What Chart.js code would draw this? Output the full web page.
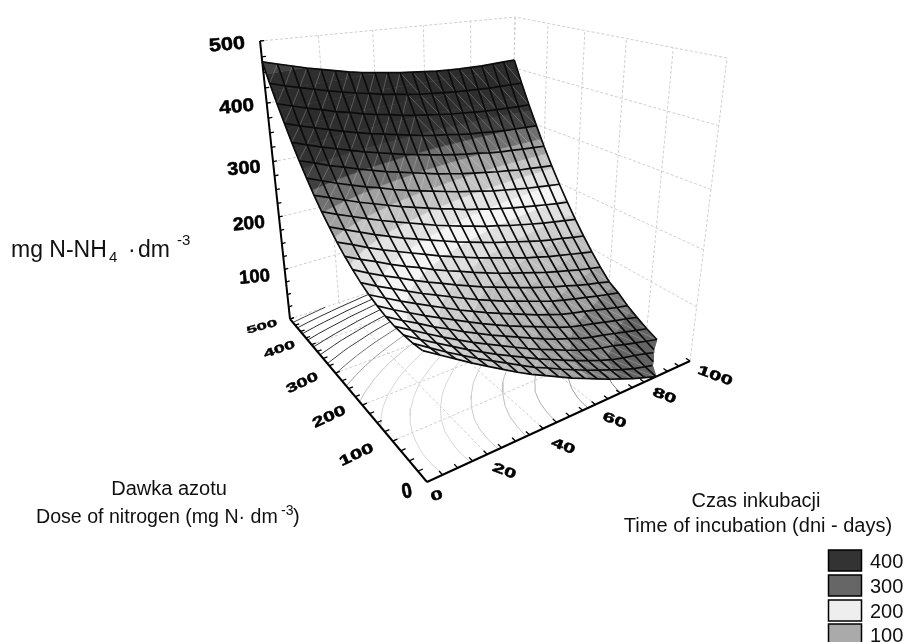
<!DOCTYPE html>
<html><head><meta charset="utf-8"><title>Surface</title>
<script src="https://cdn.jsdelivr.net/npm/chart.js@4"></script>
<style>html,body{margin:0;padding:0;background:#fff}canvas{display:block}</style></head>
<body><canvas id="c" width="907" height="642"></canvas>
<script>
const doses=[0,25,50,75,100,125,150,175,200,225,250,275,300,325,350,375,400,425,450,475,500];
const times=[0,5,10,15,20,25,30,35,40,45,50,55,60,65,70,75,80,85,90,95,100];
const zValues=[
[190,176,162,148,135,122,109,97,86,75,64,54,44,34,25,16,8,0,-7,-14,-21],
[188,174,160,147,134,122,110,98,86,76,65,55,45,36,27,18,10,4,-2,-9,-15],
[188,174,161,148,135,123,111,100,89,78,68,58,48,39,30,22,16,11,5,-2,-8],
[189,176,163,150,138,126,115,104,93,82,72,63,53,44,36,30,25,18,12,6,0],
[192,179,167,154,143,131,120,109,99,89,79,69,60,52,43,37,32,26,20,14,8],
[197,184,172,160,149,138,127,116,106,96,87,78,69,60,52,46,41,35,29,24,18],
[203,191,179,168,157,146,135,125,115,106,97,88,79,71,63,57,52,46,40,34,29],
[211,199,188,177,166,156,146,136,126,117,108,100,92,84,76,70,64,59,53,48,43],
[221,209,198,188,177,167,158,148,139,130,122,114,106,98,91,84,78,71,65,60,54],
[232,221,211,200,190,181,171,162,154,145,137,129,122,115,108,101,95,89,83,78,73],
[245,235,224,214,205,196,187,178,170,162,154,147,140,133,126,120,114,109,104,99,94],
[260,250,240,230,221,212,204,196,188,180,173,166,159,153,147,141,135,130,126,121,117],
[276,266,257,248,239,231,223,215,207,200,193,187,180,175,169,164,159,154,150,146,142],
[294,285,276,267,259,251,243,236,229,222,216,209,204,198,193,188,184,180,176,172,169],
[314,305,296,288,280,273,265,258,252,246,240,234,229,224,219,215,211,207,204,201,198],
[335,327,318,311,303,296,289,283,277,271,265,260,255,251,247,243,240,236,234,231,229],
[358,350,342,335,328,321,315,309,303,298,293,288,284,280,277,273,270,268,266,264,262],
[383,375,368,361,354,348,342,337,332,327,322,318,315,311,308,306,303,301,300,299,298],
[409,402,395,389,382,377,371,366,362,357,353,350,347,344,342,340,338,337,336,335,335],
[437,430,424,418,412,407,402,398,393,390,386,383,381,379,377,376,375,374,374,374,374],
[467,461,455,449,444,439,434,430,427,424,421,419,417,415,414,413,413,413,414,415,416]
];
const doseTicks=[0,100,200,300,400,500];
const timeTicks=[0,20,40,60,80,100];
const zTicks=[100,200,300,400,500];
const bandLevels=[0,25,50,75,100,125,150,175,200,225,250,275,300,325,350,375,400,425,450,475];
const bandGrays=[100,128,158,178,190,204,222,244,226,196,160,112,64,50,46,44,44,46,66,80];
const legendLabels=['400','300','200','100'];
const legendGrays=[51,102,238,170];

const O=[427,482],T=[690,361],B=[511,245],Af=[290,319];
const F=[414.5,104],Tt=[727,58],Bt=[515,17],At=[260,41];
function hom(p0,p1,p2,p3){
 const dx1=p1[0]-p2[0],dx2=p3[0]-p2[0],sx=p0[0]-p1[0]+p2[0]-p3[0];
 const dy1=p1[1]-p2[1],dy2=p3[1]-p2[1],sy=p0[1]-p1[1]+p2[1]-p3[1];
 const den=dx1*dy2-dx2*dy1,g=(sx*dy2-dx2*sy)/den,h=(dx1*sy-sx*dy1)/den;
 const a=p1[0]-p0[0]+g*p1[0],b=p3[0]-p0[0]+h*p3[0],d=p1[1]-p0[1]+g*p1[1],e=p3[1]-p0[1]+h*p3[1];
 return (u,v)=>{const w=g*u+h*v+1;return [(a*u+b*v+p0[0])/w,(d*u+e*v+p0[1])/w]};
}
const hF=hom(O,T,B,Af),hT=hom(F,Tt,Bt,At);
function project(d,t,z){
 const u=t/100,v=d/500,s=z/500,w=s/(1.15-0.15*s);
 const a=hF(u,v),b=hT(u,v);
 return {x:a[0]+(b[0]-a[0])*w,y:a[1]+(b[1]-a[1])*w};
}
const hex=g=>`rgb(${g},${g},${g})`;
const list=[];
function add(points,o){list.push(Object.assign({data:points,showLine:true,pointRadius:0,pointHitRadius:0,fill:false,clip:false,tension:0,borderWidth:1,borderColor:'#000',spanGaps:false},o));}
function seg(a,b,o){add([project(...a),project(...b)],o);}

const gridStyle={borderColor:'#cfcfcf',borderWidth:1,borderDash:[3,2]};
timeTicks.forEach(t=>{seg([500,t,0],[500,t,500],gridStyle);if(t>0&&t<100)seg([0,t,0],[500,t,0],gridStyle);});
doseTicks.forEach(d=>{seg([d,100,0],[d,100,500],gridStyle);if(d>0&&d<500)seg([d,0,0],[d,100,0],gridStyle);});
seg([500,0,0],[500,100,0],gridStyle);
zTicks.forEach(z=>{seg([500,0,z],[500,100,z],gridStyle);seg([0,100,z],[500,100,z],gridStyle);});

bandLevels.forEach((lv,k)=>{
 const pts=[],nan={x:NaN,y:NaN};
 for(let i=0;i<doses.length-1;i++)for(let j=0;j<times.length-1;j++){
  const c=[[i,j],[i,j+1],[i+1,j+1],[i+1,j]],cross=[];
  for(let e=0;e<4;e++){
   const p=c[e],q=c[(e+1)%4],zp=zValues[p[0]][p[1]],zq=zValues[q[0]][q[1]];
   if((zp<lv)!==(zq<lv)){const f=(lv-zp)/(zq-zp);
    cross.push(project(doses[p[0]]+(doses[q[0]]-doses[p[0]])*f,times[p[1]]+(times[q[1]]-times[p[1]])*f,0));}
  }
  if(cross.length>=2){pts.push(cross[0],cross[1],nan);}
  if(cross.length===4){pts.push(cross[2],cross[3],nan);}
 }
 add(pts,{borderColor:hex(Math.min(bandGrays[k],215)),borderWidth:1});
});

const axisStyle={borderColor:'#000',borderWidth:2};
seg([0,0,0],[500,0,0],axisStyle);seg([0,0,0],[0,100,0],axisStyle);seg([500,0,0],[500,0,500],axisStyle);
const tickStyle={borderColor:'#000',borderWidth:1.3};
for(const d of doses){if(d>0)seg([d,0,0],[d,1.6,0],tickStyle);}
for(const t of times){if(t>0)seg([0,t,0],[9,t,0],tickStyle);}
for(let z=0;z<=500;z+=25)seg([500,0,z],[500,1.4,z],tickStyle);

function clipZ(poly,lim,above){
 const out=[];
 for(let i=0;i<poly.length;i++){
  const a=poly[i],b=poly[(i+1)%poly.length];
  const ina=above?a[2]>=lim:a[2]<=lim,inb=above?b[2]>=lim:b[2]<=lim;
  if(ina)out.push(a);
  if(ina!==inb){const f=(lim-a[2])/(b[2]-a[2]);out.push([a[0]+(b[0]-a[0])*f,a[1]+(b[1]-a[1])*f,lim]);}
 }
 return out;
}
for(let i=doses.length-2;i>=0;i--)for(let j=0;j<times.length-1;j++){
 const q=[[doses[i],times[j],zValues[i][j]],[doses[i],times[j+1],zValues[i][j+1]],[doses[i+1],times[j+1],zValues[i+1][j+1]],[doses[i+1],times[j],zValues[i+1][j]]];
 bandLevels.forEach((lo,k)=>{
  let p=clipZ(q,lo,true);
  if(k<bandLevels.length-1&&p.length)p=clipZ(p,bandLevels[k+1],false);
  if(p.length<3)return;
  const pts=p.map(v=>project(...v));pts.push(pts[0]);
  const col=hex(bandGrays[k]);
  add(pts,{fill:'shape',backgroundColor:col,borderColor:col,borderWidth:0.6});
 });
}
{const pts=[],nan={x:NaN,y:NaN};
 for(let i=0;i<doses.length-1;i++)for(let j=0;j<times.length-1;j++){
  const l=j<10;
  const a=l?[doses[i],times[j],zValues[i][j]]:[doses[i],times[j+1],zValues[i][j+1]];
  const b=l?[doses[i+1],times[j+1],zValues[i+1][j+1]]:[doses[i+1],times[j],zValues[i+1][j]];
  if(a[2]<0||b[2]<0)continue;
  pts.push(project(...a),project(...b),nan);
 }
 add(pts,{borderColor:'rgba(255,255,255,0.28)',borderWidth:0.8});
}
const mesh={borderColor:'#0c0c0c',borderWidth:1.7};
function polyline(nodes){
 const pts=[],nan={x:NaN,y:NaN};
 for(let k=0;k<nodes.length-1;k++){
  let a=nodes[k],b=nodes[k+1];
  if(a[2]<0&&b[2]<0){pts.push(nan);continue;}
  if(a[2]<0||b[2]<0){const f=(0-a[2])/(b[2]-a[2]),m=[a[0]+(b[0]-a[0])*f,a[1]+(b[1]-a[1])*f,0];if(a[2]<0)a=m;else b=m;}
  pts.push(project(...a),project(...b));
 }
 add(pts,mesh);
}
doses.forEach((d,i)=>polyline(times.map((t,j)=>[d,t,zValues[i][j]])));
times.forEach((t,j)=>polyline(doses.map((d,i)=>[d,t,zValues[i][j]])));

const F_='"Liberation Sans",Arial,sans-serif';
const zOff=[[-30,8],[-30,7],[-29,7],[-30,4],[-33,4]];
const zSx=[1.15,1.2,1.25,1.3,1.35];
const dOff=[[-20,10],[-36,14],[-33,12],[-33,10],[-32,5],[-28,8]];
const dRot=[-10,-25,-25,-25,-20,-15],dSy=[1.5,1,1,.9,.8,.7],dSx=[1.3,1.55,1.5,1.45,1.4,1.35];
const tOff=[[10,14],[17,17],[20,18],[19,16],[20,14],[25,15]];
const labels={id:'labels',afterDraw(chart){
 const c=chart.ctx,xs=chart.scales.x,ys=chart.scales.y;
 const px=p=>[xs.getPixelForValue(p.x),ys.getPixelForValue(p.y)];
 function warped(txt,p,rot,sx,sy,size){c.save();c.translate(p[0],p[1]);c.rotate(rot*Math.PI/180);c.scale(sx,sy);c.font=`bold ${size}px ${F_}`;c.textAlign='center';c.textBaseline='middle';c.fillStyle='#000';c.strokeStyle='#000';c.lineWidth=.5;c.fillText(txt,0,0);c.strokeText(txt,0,0);c.restore();}
 zTicks.forEach((z,i)=>{const a=px(project(500,0,z));warped(String(z),[a[0]+zOff[i][0],a[1]+zOff[i][1]],-5,zSx[i],1.15,16);});
 doseTicks.forEach((d,i)=>{const a=px(project(d,0,0));warped(String(d),[a[0]+dOff[i][0],a[1]+dOff[i][1]],dRot[i],dSx[i],dSy[i],14);});
 timeTicks.forEach((t,i)=>{const a=px(project(0,t,0));warped(String(t),[a[0]+tOff[i][0],a[1]+tOff[i][1]],i?20:-20,1.55,.95,14);});
 c.fillStyle='#111';c.textBaseline='alphabetic';c.textAlign='center';
 const f=s=>`${s}px ${F_}`;
 c.font=f(20);
 c.fillText('Dawka azotu',169,495);
 c.fillText('Czas inkubacji',756,507);
 c.fillText('Time of incubation (dni - days)',758,532);
 c.textAlign='left';
 function runs(parts){parts.forEach(([s,size,x,y])=>{c.font=f(size);c.fillText(s,x,y);});}
 runs([['Dose of nitrogen (mg N· dm',19.6,36,523],['-3',14,281,515],[')',20,293,523]]);
 runs([['mg N-NH',23,11,257],['4',15,109,262],['·',23,128,257],['dm',23,138,257],['-3',15,177,245]]);
 const boxY=[550,575,600,624];
 legendLabels.forEach((l,i)=>{c.fillStyle=hex(legendGrays[i]);c.strokeStyle='#000';c.lineWidth=1.5;c.fillRect(828.5,boxY[i],33,21);c.strokeRect(828.5,boxY[i],33,21);c.fillStyle='#111';c.font=f(20);c.fillText(l,870,boxY[i]+18);});
}};
new Chart(document.getElementById('c'),{type:'scatter',data:{datasets:list.slice().reverse()},plugins:[labels],options:{responsive:false,animation:false,events:[],layout:{padding:0},plugins:{legend:{display:false},tooltip:{enabled:false},title:{display:false}},scales:{x:{type:'linear',min:0,max:907,display:false},y:{type:'linear',min:0,max:642,reverse:true,display:false}}}});
</script></body></html>
